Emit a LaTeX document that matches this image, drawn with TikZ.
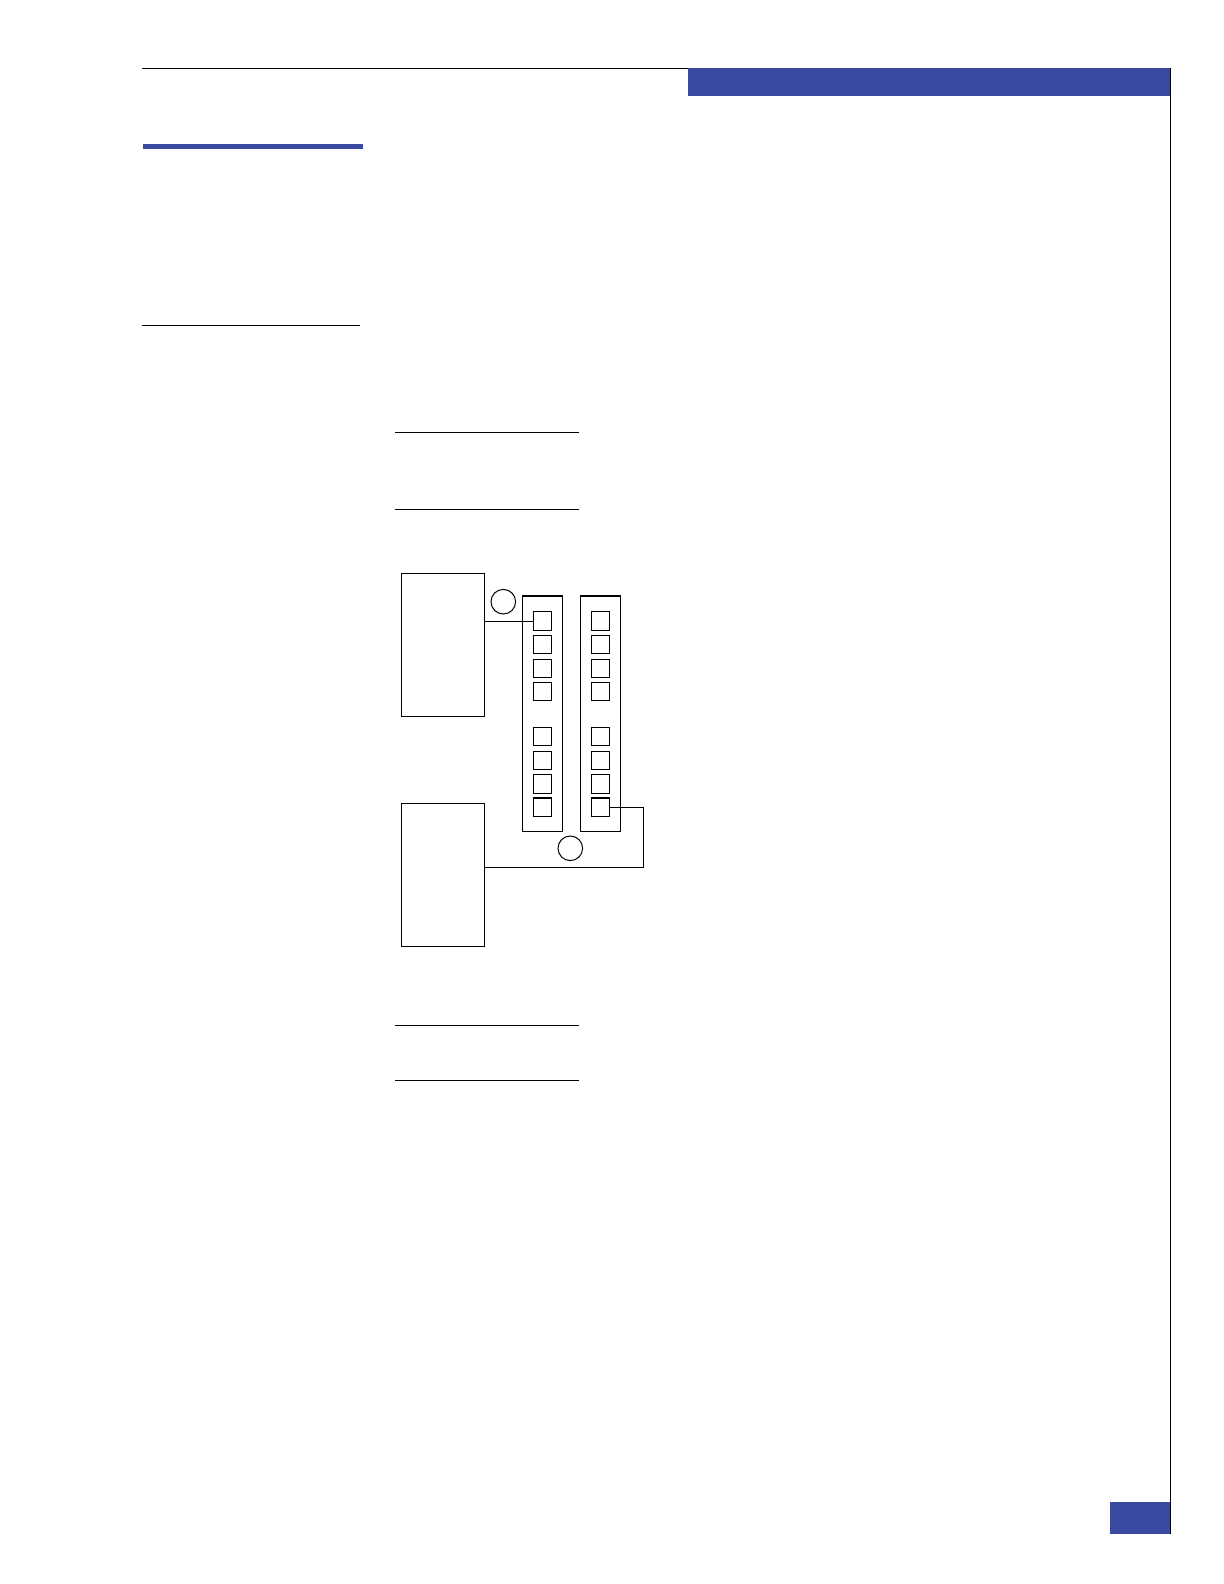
\documentclass[tikz,border=0pt]{standalone}
\usepackage{tikz}
\usetikzlibrary{positioning, shapes, arrows}

\definecolor{pageblue}{RGB}{58,74,163}

\begin{document}
\begin{tikzpicture}[x=0.5pt, y=-0.5pt,
  every node/.style={inner sep=0pt, outer sep=0pt, line width=0.5pt},
  hostbox/.style={draw, rectangle, minimum width=41.3pt, minimum height=71.6pt},
  slotbar/.style={draw, rectangle, minimum width=19.8pt, minimum height=117.7pt},
  portbox/.style={draw, rectangle, minimum size=9.2pt},
  marker/.style={draw, circle, minimum size=12.3pt},
  rule/.style={line width=0.6pt}]
\useasboundingbox (0,0) rectangle (1224,1584);
% page frame
\draw[rule] (142.3,68.3) -- (688.3,68.3);
\fill[pageblue] (688.3,68.3) rectangle (1170,95.7);
\draw[rule] (1170.3,68.3) -- (1170.3,1533.7);
\fill[pageblue] (143,144) rectangle (362.5,149);
\draw[rule] (142.3,325.3) -- (359.7,325.3);
\draw[rule] (395,432.3) -- (579,432.3);
\draw[rule] (395,509.3) -- (579,509.3);
\draw[rule] (395,1025.3) -- (579,1025.3);
\draw[rule] (395,1080.3) -- (579,1080.3);
\fill[pageblue] (1110,1502) rectangle (1170,1533.7);

% hosts and switch bars
\node (hostA) [hostbox] at (443,644.7) {};
\node (hostB) [hostbox] at (443,875.3) {};
\node (barL) [slotbar] at (542.5,713.4) {};
\node (barR) [slotbar] at (600.3,713.4) {};
\draw[line width=1.2pt] (barL.north west) -- (barL.north east);
\draw[line width=1.2pt] (barR.north west) -- (barR.north east);
\foreach \i/\y in {1/621,2/644.7,3/668.2,4/691.5,5/736.5,6/760.2,7/783.8,8/807.6}{
  \node (pL\i) [portbox] at (542.5,\y) {};
  \node (pR\i) [portbox] at (600.5,\y) {};
}
\draw[line width=1pt] (pL8.north west) -- (pL8.north east);
\draw[line width=1pt] (pR8.north west) -- (pR8.north east);
\node (mA) [marker] at (503.3,601.7) {};
\node (mB) [marker] at (570.3,848.3) {};

% cabling
\coordinate (turn) at (643.3,867);
\draw[line width=0.5pt] (pL1.west -| hostA.east) -- (pL1.west);
\draw[line width=0.5pt] (pR8.east) -| (turn) -- (turn -| hostB.east);
\end{tikzpicture}
\end{document}
